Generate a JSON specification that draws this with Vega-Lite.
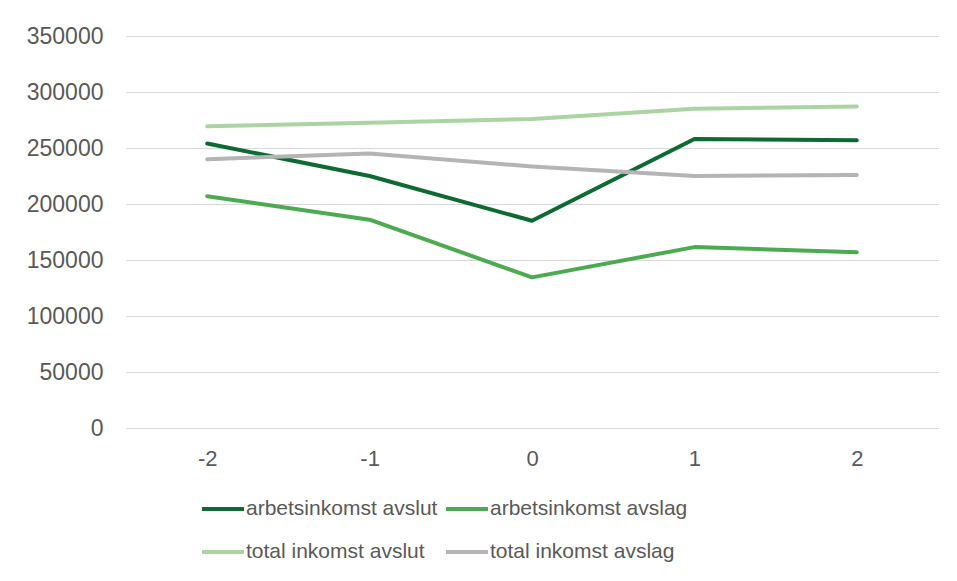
{
  "$schema": "https://vega.github.io/schema/vega-lite/v6.json",
  "width": 812,
  "height": 392,
  "autosize": {"type": "none"},
  "padding": {"left": 126, "top": 36, "right": 19, "bottom": 153},
  "background": "white",
  "config": {
    "view": {"stroke": null},
    "font": "Liberation Sans"
  },
  "data": {
    "values": [
      {"x": "-2", "series": "arbetsinkomst avslut", "value": 254000},
      {"x": "-1", "series": "arbetsinkomst avslut", "value": 225000},
      {"x": "0", "series": "arbetsinkomst avslut", "value": 185000},
      {"x": "1", "series": "arbetsinkomst avslut", "value": 258000},
      {"x": "2", "series": "arbetsinkomst avslut", "value": 257000},
      {"x": "-2", "series": "arbetsinkomst avslag", "value": 207000},
      {"x": "-1", "series": "arbetsinkomst avslag", "value": 186000},
      {"x": "0", "series": "arbetsinkomst avslag", "value": 134500},
      {"x": "1", "series": "arbetsinkomst avslag", "value": 161500},
      {"x": "2", "series": "arbetsinkomst avslag", "value": 157000},
      {"x": "-2", "series": "total inkomst avslut", "value": 269500},
      {"x": "-1", "series": "total inkomst avslut", "value": 272500},
      {"x": "0", "series": "total inkomst avslut", "value": 276000},
      {"x": "1", "series": "total inkomst avslut", "value": 285000},
      {"x": "2", "series": "total inkomst avslut", "value": 287000},
      {"x": "-2", "series": "total inkomst avslag", "value": 240000},
      {"x": "-1", "series": "total inkomst avslag", "value": 245000},
      {"x": "0", "series": "total inkomst avslag", "value": 233500},
      {"x": "1", "series": "total inkomst avslag", "value": 225000},
      {"x": "2", "series": "total inkomst avslag", "value": 226000}
    ]
  },
  "mark": {"type": "line", "strokeWidth": 4, "strokeCap": "round", "strokeJoin": "round"},
  "encoding": {
    "x": {
      "field": "x",
      "type": "ordinal",
      "sort": ["-2", "-1", "0", "1", "2"],
      "scale": {"type": "point", "padding": 0.5},
      "axis": {
        "title": null,
        "labelAngle": 0,
        "domain": false,
        "ticks": false,
        "grid": false,
        "labelFontSize": 22,
        "labelColor": "#595959",
        "labelPadding": 20
      }
    },
    "y": {
      "field": "value",
      "type": "quantitative",
      "scale": {"domain": [0, 350000], "nice": false},
      "axis": {
        "title": null,
        "values": [0, 50000, 100000, 150000, 200000, 250000, 300000, 350000],
        "format": "d",
        "domain": false,
        "ticks": false,
        "gridColor": "#d9d9d9",
        "gridWidth": 1,
        "labelFontSize": 23,
        "labelColor": "#595959",
        "labelPadding": 23
      }
    },
    "color": {
      "field": "series",
      "type": "nominal",
      "scale": {
        "domain": ["arbetsinkomst avslut", "arbetsinkomst avslag", "total inkomst avslut", "total inkomst avslag"],
        "range": ["#0d6a33", "#4caa50", "#acd4a3", "#b4b4b4"]
      },
      "legend": {
        "title": null,
        "orient": "none",
        "legendX": 74,
        "legendY": 450,
        "direction": "horizontal",
        "columns": 2,
        "symbolType": "stroke",
        "symbolSize": 1764,
        "symbolStrokeWidth": 4,
        "labelFontSize": 21,
        "labelColor": "#595959",
        "labelOffset": 0,
        "columnPadding": 0,
        "rowPadding": 10,
        "labelLimit": 400
      }
    }
  }
}
